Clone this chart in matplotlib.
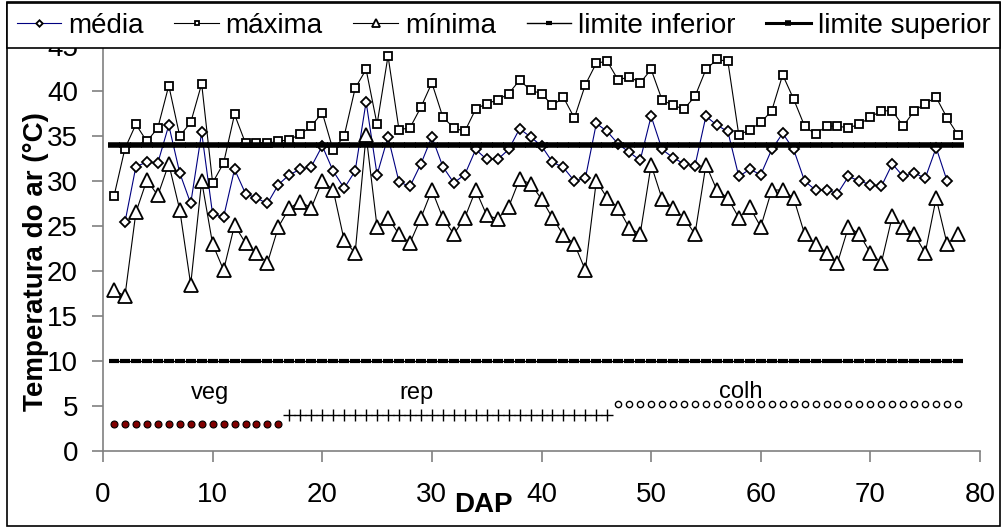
import numpy as np
import matplotlib
matplotlib.use("Agg")
import matplotlib.pyplot as plt
from matplotlib.patches import Rectangle

plt.rcParams['font.family'] = ['Liberation Sans', 'DejaVu Sans']

# days after planting (DAP)
dap = list(range(1, 79))

maxima = [28.3, 33.6, 36.3, 34.4, 35.9, 40.6, 35.0, 36.5, 40.8, 29.8,
          32.0, 37.4, 34.2, 34.2, 34.2, 34.4, 34.6, 35.2, 36.1, 37.6,
          33.4, 35.0, 40.3, 42.4, 36.3, 43.9, 35.7, 35.9, 38.2, 40.9,
          37.1, 35.9, 35.5, 38.0, 38.6, 39.0, 39.7, 41.2, 40.1, 39.7,
          38.4, 39.3, 37.0, 40.7, 43.1, 43.3, 41.2, 41.6, 40.9, 42.4,
          39.0, 38.4, 38.0, 39.4, 42.4, 43.5, 43.3, 35.1, 35.7, 36.5,
          37.8, 41.8, 39.1, 36.1, 35.2, 36.1, 36.1, 35.9, 36.3, 37.1,
          37.8, 37.8, 36.1, 37.8, 38.6, 39.3, 37.0, 35.1]

media = [np.nan, 25.4, 31.6, 32.1, 32.0, 36.2, 30.9, 27.5, 35.4, 26.3,
         26.0, 31.3, 28.6, 28.1, 27.5, 29.6, 30.7, 31.3, 31.6, 33.9,
         31.1, 29.2, 31.1, 38.8, 30.7, 34.9, 29.9, 29.4, 31.9, 34.9,
         31.6, 29.8, 30.7, 33.5, 32.4, 32.4, 33.5, 35.8, 34.9, 33.9,
         32.1, 31.5, 30.0, 30.3, 36.4, 35.5, 34.1, 33.2, 32.3, 37.2,
         33.5, 32.6, 31.9, 31.7, 37.2, 36.2, 35.5, 30.5, 31.3, 30.7,
         33.5, 35.3, 33.5, 30.0, 29.0, 29.0, 28.6, 30.5, 30.0, 29.6,
         29.4, 31.9, 30.5, 30.9, 30.3, 33.7, 30.0, np.nan]

minima = [17.9, 17.2, 26.5, 30.1, 28.4, 31.9, 26.8, 18.5, 30.0, 23.0,
          20.1, 25.1, 23.1, 22.0, 20.9, 24.9, 27.0, 27.7, 27.0, 30.0,
          29.0, 23.4, 22.0, 35.1, 24.9, 25.9, 24.1, 23.1, 25.9, 29.0,
          25.9, 24.1, 25.9, 29.0, 26.2, 25.8, 27.1, 30.2, 29.7, 28.0,
          25.9, 24.0, 23.0, 20.1, 30.0, 28.1, 27.0, 24.8, 24.1, 31.8,
          28.0, 27.0, 25.9, 24.1, 31.8, 29.0, 28.1, 25.9, 27.1, 24.9,
          29.0, 29.0, 28.1, 24.1, 23.0, 22.0, 20.9, 24.9, 24.1, 22.0,
          20.9, 26.1, 24.9, 24.1, 22.0, 28.1, 23.0, 24.1]

limite_inferior = 10
limite_superior = 34

# phase markers: vegetative, reproductive, harvest
veg_dap = list(range(1, 17))
rep_dap = list(range(17, 47))
colh_dap = list(range(47, 79))
veg_y = 3
rep_y = 4
colh_y = 5.25

phase_labels = ['veg', 'rep', 'colh']
phase_label_x = [9.75, 28.6, 58.2]
phase_label_y = 6.5


def main():
    W, H = 1004, 528
    fig = plt.figure(figsize=(W / 100, H / 100), dpi=100)
    ax = fig.add_axes([103 / W, 1 - 451 / H, 877 / W, 405 / H])

    h_med, = ax.plot(dap, media, color='#000080', lw=0.8, marker='D', ms=5.5,
                     mfc='white', mec='black', mew=1.3, label='média')
    h_max, = ax.plot(dap, maxima, color='black', lw=0.8, marker='s', ms=5.5,
                     mfc='white', mec='black', mew=1.3, label='máxima')
    h_min, = ax.plot(dap, minima, color='black', lw=0.8, marker='^', ms=10,
                     mfc='white', mec='black', mew=1.3, label='mínima')
    h_inf, = ax.plot(dap, [limite_inferior] * len(dap), color='black', lw=1.0,
                     marker='_', ms=7, mew=3, label='limite inferior')
    h_sup, = ax.plot(dap, [limite_superior] * len(dap), color='black', lw=2.2,
                     marker='_', ms=8, mew=4, label='limite superior')

    ax.plot(veg_dap, [veg_y] * len(veg_dap), ls='none', marker='o', ms=5,
            mfc='#800000', mec='black', mew=0.8)
    ax.plot(rep_dap, [rep_y] * len(rep_dap), ls='none', marker='+', ms=8,
            mec='black', mew=1.0)
    ax.plot(colh_dap, [colh_y] * len(colh_dap), ls='none', marker='o', ms=4.5,
            mfc='white', mec='black', mew=1.0)

    for lab, lx in zip(phase_labels, phase_label_x):
        ax.text(lx, phase_label_y, lab, fontsize=17, ha='center', va='center')

    ax.set_xlim(0, 80)
    ax.set_ylim(0, 45)
    ax.set_xticks(range(0, 81, 10))
    ax.set_yticks(range(0, 46, 5))
    for s in ['top', 'right']:
        ax.spines[s].set_visible(False)
    for s in ['left', 'bottom']:
        ax.spines[s].set_color('#808080')
        ax.spines[s].set_linewidth(1.2)
    ax.tick_params(direction='out', length=8, width=1.2, color='#808080',
                   labelsize=20)
    ax.tick_params(axis='x', pad=14)
    ax.tick_params(axis='y', pad=10)

    ax.set_xlabel('DAP', fontsize=20, fontweight='bold')
    ax.xaxis.set_label_coords(0.434, -0.10)
    ax.set_ylabel('Temperatura do ar (°C)', fontsize=20, fontweight='bold')
    ax.yaxis.set_label_coords(-0.062, 0.467)

    leg = fig.legend(handles=[h_med, h_max, h_min, h_inf, h_sup],
                     loc='upper left',
                     bbox_to_anchor=(7 / W, 1 - 51 / H, 993 / W, 48 / H),
                     mode='expand', ncol=5, fontsize=20, frameon=True,
                     fancybox=False, edgecolor='black', framealpha=1,
                     borderaxespad=0, handlelength=1.6, handletextpad=0.25,
                     markerscale=0.6, borderpad=0.35)
    leg.get_frame().set_linewidth(1.2)

    # outer chart border
    fig.patches.append(Rectangle((7 / W, 2 / H), 993 / W, 524 / H,
                                 transform=fig.transFigure, fill=False,
                                 edgecolor='black', lw=1.2))

    fig.savefig('out.png', dpi=100)


if __name__ == "__main__":
    main()
